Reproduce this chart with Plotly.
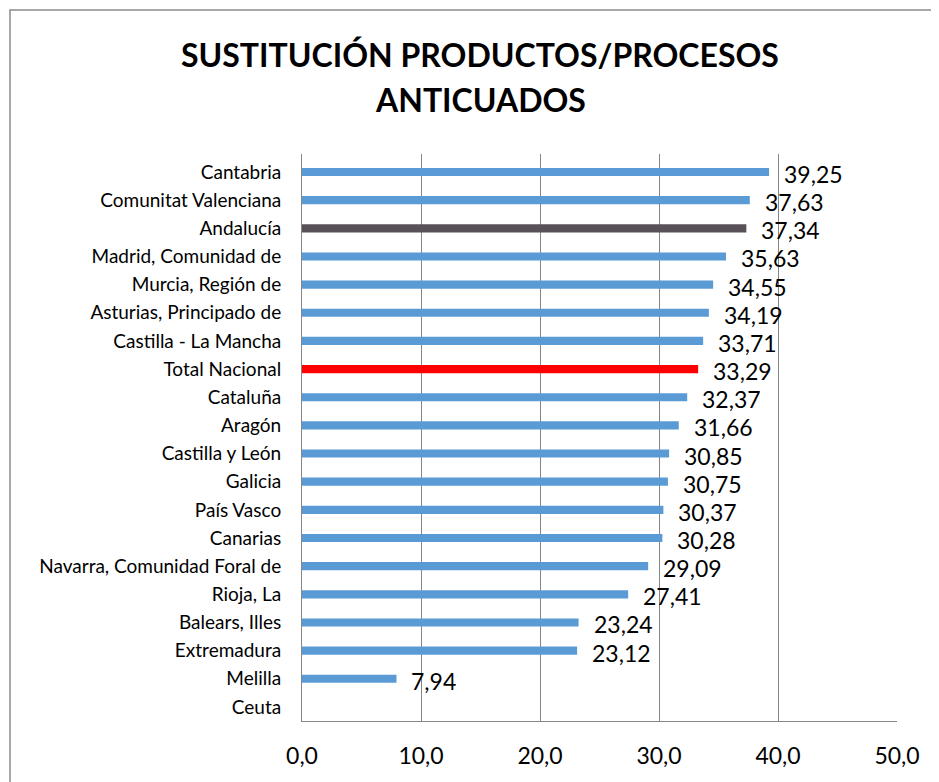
import plotly.graph_objects as go

categories = ["Cantabria", "Comunitat Valenciana", "Andalucía", "Madrid, Comunidad de",
              "Murcia, Región de", "Asturias, Principado de", "Castilla - La Mancha",
              "Total Nacional", "Cataluña", "Aragón", "Castilla y León", "Galicia",
              "País Vasco", "Canarias", "Navarra, Comunidad Foral de", "Rioja, La",
              "Balears, Illes", "Extremadura", "Melilla", "Ceuta"]
values = [39.25, 37.63, 37.34, 35.63, 34.55, 34.19, 33.71, 33.29, 32.37, 31.66,
          30.85, 30.75, 30.37, 30.28, 29.09, 27.41, 23.24, 23.12, 7.94, None]
title_lines = ["SUSTITUCIÓN PRODUCTOS/PROCESOS", "ANTICUADOS"]

BLUE = "#5B9BD5"
colors = []
for c in categories:
    if c == "Andalucía":
        colors.append("#595157")
    elif c == "Total Nacional":
        colors.append("#FF0000")
    else:
        colors.append(BLUE)

FONT = "Lato, sans-serif"

# page body has an 8px margin; figure coords = screen coords - 8
W, H = 931, 774
L, R, T, B = 294, 889, 146, 713
pw, ph = R - L, B - T

fig = go.Figure(go.Bar(
    x=[0 if v is None else v for v in values], y=categories, orientation="h",
    marker=dict(color=colors, line=dict(width=0)),
    width=0.29, hoverinfo="x+y",
))

annotations = []
for c, v in zip(categories, values):
    if v is None:
        continue
    annotations.append(dict(
        x=v, y=c, xref="x", yref="y", xanchor="left", yanchor="middle",
        text=f"{v:.2f}".replace(".", ","), showarrow=False, xshift=13, yshift=-2,
        font=dict(family=FONT, size=23, color="#000000")))

for i, (line, fy) in enumerate(zip(title_lines, [47, 92])):
    annotations.append(dict(
        x=(472 - L) / pw, y=(B - fy) / ph, xref="paper", yref="paper",
        xanchor="center", yanchor="middle", showarrow=False,
        text=f"<b>{line}</b>", font=dict(family=FONT, size=32, color="#000000")))

fig.update_layout(
    width=W, height=H,
    paper_bgcolor="white", plot_bgcolor="white",
    margin=dict(l=L, r=W - R, t=T, b=H - B, autoexpand=False),
    showlegend=False,
    separators=",.",
    annotations=annotations,
    shapes=[dict(type="rect", xref="paper", yref="paper",
                 x0=(2 - L) / pw, x1=(940 - L) / pw,
                 y0=-(H - B + 20) / ph, y1=(B - 2) / ph,
                 line=dict(color="#8C8C8C", width=1.5), fillcolor="rgba(0,0,0,0)", layer="below")],
)
fig.update_xaxes(range=[0, 50], dtick=10, tickformat=".1f", automargin=False,
                 showgrid=True, gridcolor="#868686", gridwidth=1,
                 showline=True, linecolor="#868686", linewidth=1,
                 zeroline=False, ticks="", ticklabelstandoff=14,
                 tickfont=dict(family=FONT, size=23, color="#000000"),
                 fixedrange=True)
fig.update_yaxes(autorange="reversed", showgrid=False, automargin=False,
                 showline=True, linecolor="#868686", linewidth=1,
                 ticks="", ticklabelstandoff=16,
                 tickfont=dict(family=FONT, size=19, color="#000000"),
                 fixedrange=True)

fig.write_html("out.html")
